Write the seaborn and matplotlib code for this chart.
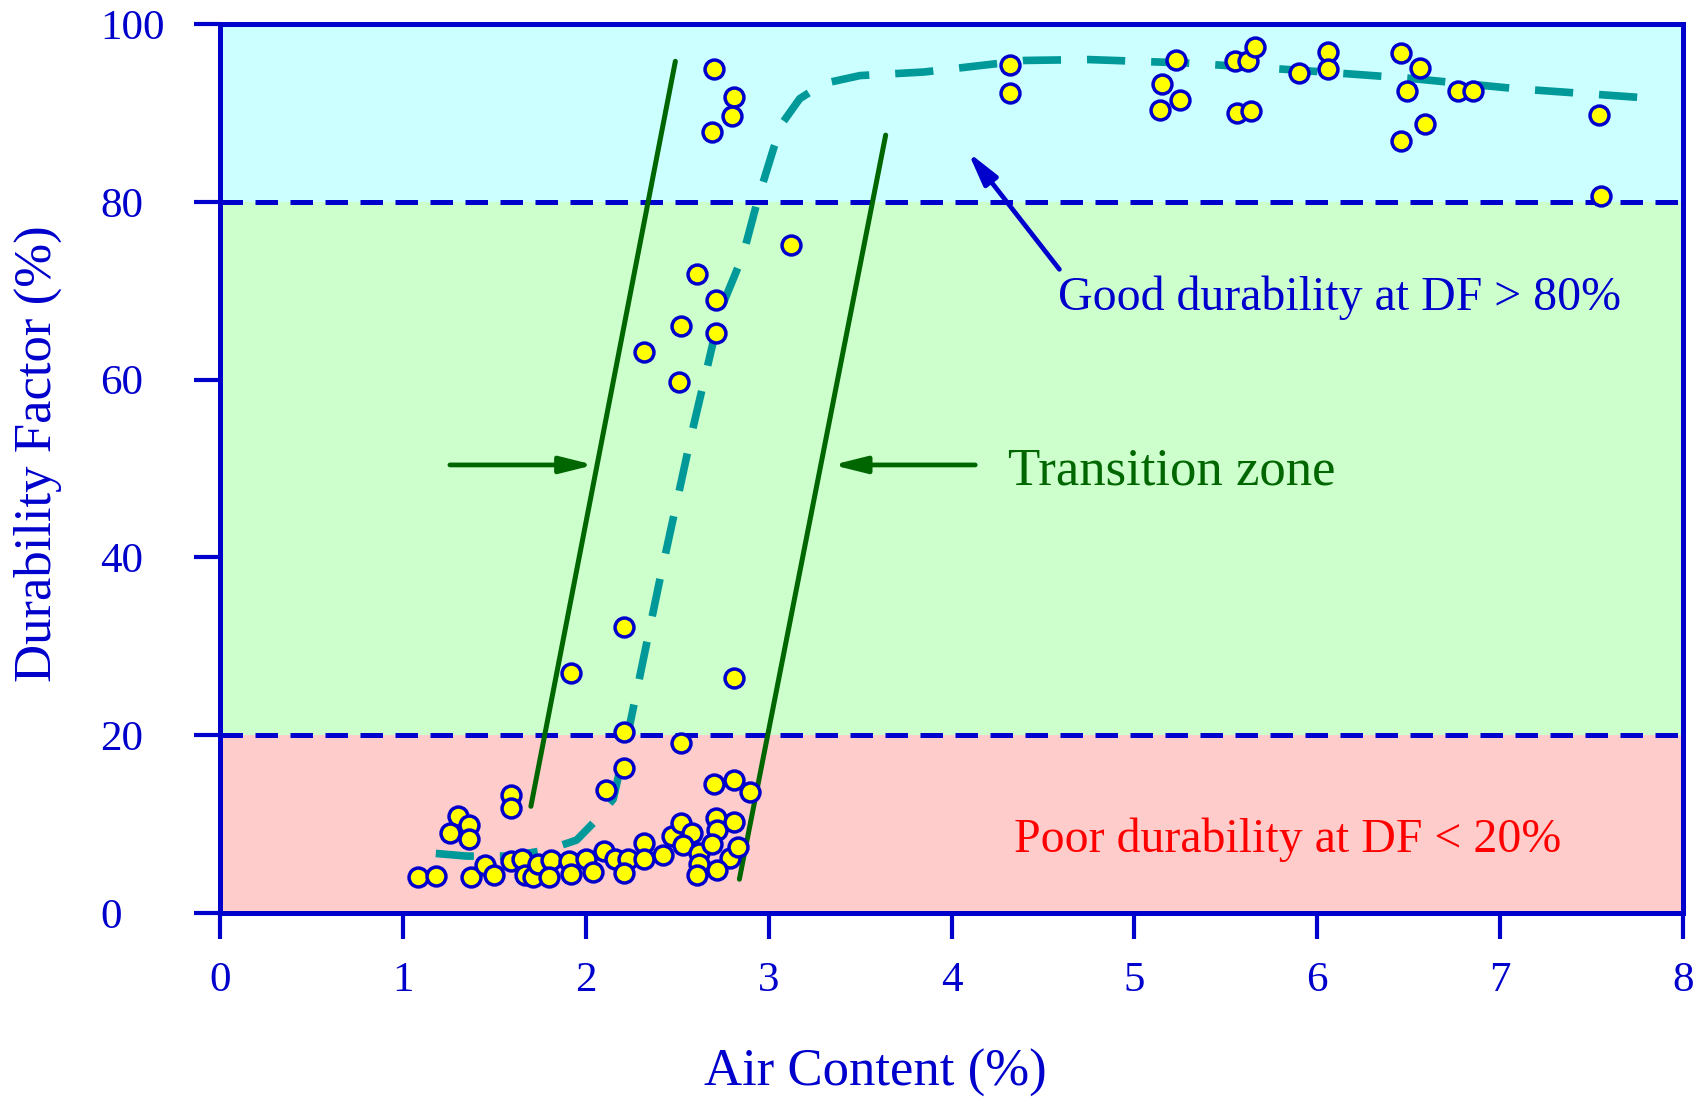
import numpy as np
import pandas as pd
import matplotlib
matplotlib.use("Agg")
import matplotlib.pyplot as plt
import seaborn as sns

# measured points (air content %, durability factor %)
air_content = [1.08, 1.18, 1.30, 1.36, 1.26, 1.36, 1.37, 1.59, 1.59, 1.45, 1.50, 1.59, 1.65, 1.67,
               1.71, 1.74, 1.81, 1.80, 1.91, 1.92, 2.00, 2.04, 2.11, 2.21, 2.10, 2.16, 2.23, 2.21,
               2.32, 2.32, 2.42, 2.52, 2.47, 2.52, 2.58, 2.53, 2.62, 2.62, 2.61, 2.70, 2.81, 2.90,
               2.71, 2.72, 2.81, 2.69, 2.79, 2.83, 2.72,
               1.92, 2.21, 2.21, 2.81, 2.32, 2.51, 2.52, 2.61, 2.71, 2.71, 3.12,
               2.70, 2.81, 2.80, 2.69, 4.32, 4.32, 5.23, 5.15, 5.14, 5.25, 5.55, 5.62, 5.66, 5.56,
               5.64, 5.90, 6.06, 6.06, 6.46, 6.56, 6.49, 6.59, 6.46, 6.77, 6.85, 7.54, 7.55]
durability = [4.1, 4.2, 10.9, 9.9, 9.0, 8.3, 4.0, 13.3, 11.8, 5.4, 4.3, 5.9, 6.1, 4.3,
              4.0, 5.5, 6.0, 4.1, 5.9, 4.4, 6.1, 4.6, 13.8, 16.3, 7.0, 6.1, 6.1, 4.5,
              7.9, 6.1, 6.5, 19.1, 8.7, 10.1, 9.0, 7.7, 6.7, 5.5, 4.3, 14.5, 15.0, 13.6,
              10.7, 9.3, 10.2, 7.8, 6.2, 7.4, 4.8,
              27.0, 32.2, 20.4, 26.4, 63.1, 59.7, 66.0, 71.9, 68.9, 65.2, 75.1,
              94.9, 91.8, 89.7, 87.9, 95.4, 92.2, 96.0, 93.3, 90.3, 91.4, 95.8, 95.8, 97.4, 90.0,
              90.2, 94.5, 96.9, 94.9, 96.7, 95.0, 92.5, 88.8, 86.8, 92.5, 92.5, 89.8, 80.7]

# hand-drawn trend curve
trend_x = [1.18, 1.35, 1.59, 1.79, 1.95, 2.04, 2.15, 2.22, 2.40, 2.58, 2.74, 2.86, 2.94, 3.03,
           3.08, 3.17, 3.30, 3.50, 3.85, 4.40, 4.75, 5.30, 5.90, 6.50, 7.10, 7.79]
trend_y = [6.7, 6.4, 6.4, 7.1, 8.2, 10.1, 12.8, 19.1, 37.0, 54.0, 68.0, 74.0, 80.2, 86.2,
           89.0, 91.6, 93.3, 94.2, 94.6, 95.9, 96.0, 95.6, 94.8, 93.9, 92.7, 91.7]

# transition zone boundaries
left_bound_x = [1.70, 2.49]
left_bound_y = [12.0, 95.8]
right_bound_x = [2.84, 3.64]
right_bound_y = [3.8, 87.5]

x_ticks = [0, 1, 2, 3, 4, 5, 6, 7, 8]
y_ticks = [0, 20, 40, 60, 80, 100]

blue = "#0000CC"
green = "#006600"
teal = "#009999"

sns.set_style("ticks")
plt.rcParams["font.family"] = ["Liberation Serif", "DejaVu Serif"]

df = pd.DataFrame({"air": air_content, "df": durability})
trend = pd.DataFrame({"x": trend_x, "y": trend_y})

fig = plt.figure(figsize=(17, 11.02), dpi=100)
ax = fig.add_axes([220 / 1700, 189 / 1102, 1463 / 1700, 889 / 1102])

# zones
ax.axhspan(0, 20, color="#FFCCCC", zorder=0, lw=0)
ax.axhspan(20, 80, color="#CCFFCC", zorder=0, lw=0)
ax.axhspan(80, 100, color="#CCFFFF", zorder=0, lw=0)
for lvl in [20, 80]:
    ax.axhline(lvl, color=blue, lw=3.6, ls=(0, (4.5, 2.5)), zorder=1)

# boundaries of transition zone
ax.plot(left_bound_x, left_bound_y, color=green, lw=3.6, zorder=2)
ax.plot(right_bound_x, right_bound_y, color=green, lw=3.6, zorder=2)

# trend curve
sns.lineplot(data=trend, x="x", y="y", sort=False, ax=ax, color=teal, lw=5.5,
             zorder=3, estimator=None)
ax.lines[-1].set_dashes((5, 3.4))

# data points
sns.scatterplot(data=df, x="air", y="df", ax=ax, s=185, color="#FFFF00",
                edgecolor=blue, linewidth=2.5, zorder=4)

# arrows and notes
arrow_kw = dict(arrowstyle="-|>,head_length=1.0,head_width=0.25", color=green, lw=3.4,
                mutation_scale=20, shrinkA=0, shrinkB=0)
ax.annotate("", xy=(2.045, 50.4), xytext=(1.257, 50.4), arrowprops=arrow_kw, zorder=5)
ax.annotate("", xy=(3.35, 50.4), xytext=(4.13, 50.4), arrowprops=arrow_kw, zorder=5)
ax.annotate("", xy=(4.09, 85.6), xytext=(4.59, 72.4),
            arrowprops=dict(arrowstyle="-|>,head_length=1.0,head_width=0.25", color=blue,
                            lw=3.4, mutation_scale=20, shrinkA=0, shrinkB=0), zorder=5)

ax.text(4.58, 69.2, "Good durability at DF > 80%", color=blue, fontsize=34.5,
        ha="left", va="center", zorder=6)
ax.text(4.31, 49.65, "Transition zone", color=green, fontsize=38,
        ha="left", va="center", zorder=6)
ax.text(4.34, 8.2, "Poor durability at DF < 20%", color="#FF0000", fontsize=34.5,
        ha="left", va="center", zorder=6)

ax.set_xlim(0, 8)
ax.set_ylim(0, 100)
ax.set_xticks(x_ticks)
ax.set_yticks(y_ticks)
ax.set_xticklabels([str(t) for t in x_ticks])
ax.set_yticklabels([str(t) for t in y_ticks])
ax.tick_params(axis="both", direction="out", length=19, width=3, color=blue,
               labelcolor=blue, labelsize=31)
ax.tick_params(axis="x", pad=16)
ax.tick_params(axis="y", pad=67)
for lab in ax.get_yticklabels():
    lab.set_horizontalalignment("left")
for side in ["left", "right", "top", "bottom"]:
    ax.spines[side].set_color(blue)
    ax.spines[side].set_linewidth(3.6)
    ax.spines[side].set_zorder(7)

ax.set_xlabel("Air Content (%)", color=blue, fontsize=38, va="center", ha="center")
ax.set_ylabel("Durability Factor (%)", color=blue, fontsize=38, va="center", ha="center")
ax.xaxis.set_label_coords(0.448, -0.18)
ax.yaxis.set_label_coords(-0.1244, 0.517)

fig.savefig("out.png", dpi=100)
plt.close(fig)
